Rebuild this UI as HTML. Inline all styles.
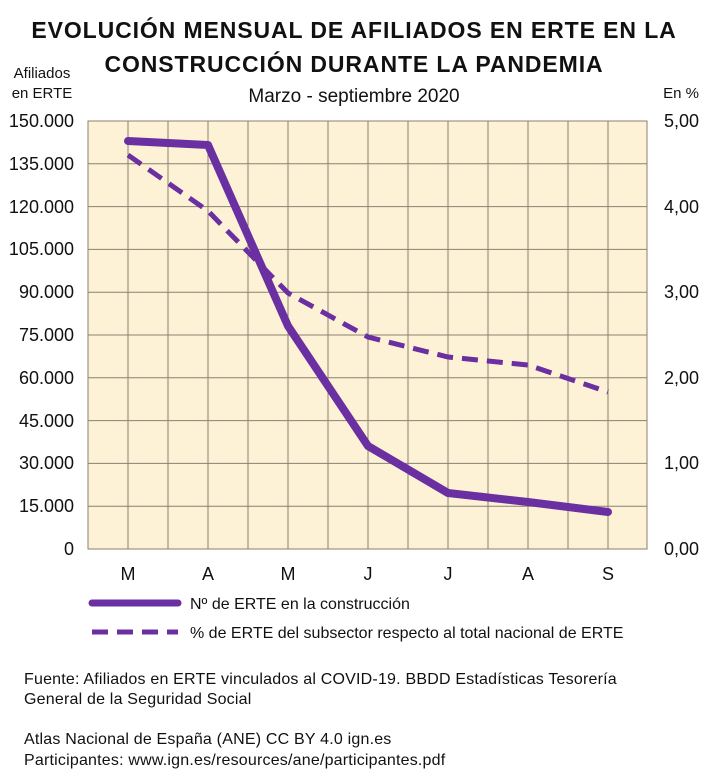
<!DOCTYPE html>
<html><head><meta charset="utf-8"><style>
body{margin:0;background:#fff;width:709px;height:778px;overflow:hidden;font-family:"Liberation Sans",sans-serif;}
</style></head><body>
<svg width="709" height="778" xmlns="http://www.w3.org/2000/svg" font-family="Liberation Sans, sans-serif">
<text x="354" y="38" text-anchor="middle" font-size="23" font-weight="bold" fill="#111" letter-spacing="0.9">EVOLUCIÓN MENSUAL DE AFILIADOS EN ERTE EN LA</text>
<text x="354" y="72" text-anchor="middle" font-size="23" font-weight="bold" fill="#111" letter-spacing="0.9">CONSTRUCCIÓN DURANTE LA PANDEMIA</text>
<text x="354" y="102" text-anchor="middle" font-size="19" fill="#111">Marzo - septiembre 2020</text>
<text x="42" y="78" text-anchor="middle" font-size="15" fill="#111">Afiliados</text>
<text x="42" y="98" text-anchor="middle" font-size="15" fill="#111">en ERTE</text>
<text x="681" y="98" text-anchor="middle" font-size="15" fill="#111">En %</text>
<rect x="88" y="121" width="559" height="428" fill="#fdf2d6"/>
<g stroke="#8a8070" stroke-width="1">
<line x1="128" y1="121" x2="128" y2="549"/><line x1="168" y1="121" x2="168" y2="549"/><line x1="208" y1="121" x2="208" y2="549"/><line x1="248" y1="121" x2="248" y2="549"/><line x1="288" y1="121" x2="288" y2="549"/><line x1="328" y1="121" x2="328" y2="549"/><line x1="368" y1="121" x2="368" y2="549"/><line x1="408" y1="121" x2="408" y2="549"/><line x1="448" y1="121" x2="448" y2="549"/><line x1="488" y1="121" x2="488" y2="549"/><line x1="528" y1="121" x2="528" y2="549"/><line x1="568" y1="121" x2="568" y2="549"/><line x1="608" y1="121" x2="608" y2="549"/>
<line x1="88" y1="163.8" x2="647" y2="163.8"/><line x1="88" y1="206.6" x2="647" y2="206.6"/><line x1="88" y1="249.4" x2="647" y2="249.4"/><line x1="88" y1="292.2" x2="647" y2="292.2"/><line x1="88" y1="335" x2="647" y2="335"/><line x1="88" y1="377.8" x2="647" y2="377.8"/><line x1="88" y1="420.6" x2="647" y2="420.6"/><line x1="88" y1="463.4" x2="647" y2="463.4"/><line x1="88" y1="506.2" x2="647" y2="506.2"/>
</g>
<rect x="88" y="121" width="559" height="428" fill="none" stroke="#8a8070"/>
<g font-size="18" fill="#111" text-anchor="end">
<text x="74" y="127">150.000</text><text x="74" y="170">135.000</text><text x="74" y="213">120.000</text><text x="74" y="255">105.000</text><text x="74" y="298">90.000</text><text x="74" y="341">75.000</text><text x="74" y="384">60.000</text><text x="74" y="427">45.000</text><text x="74" y="469">30.000</text><text x="74" y="512">15.000</text><text x="74" y="555">0</text>
</g>
<g font-size="18" fill="#111">
<text x="664" y="127">5,00</text><text x="664" y="213">4,00</text><text x="664" y="298">3,00</text><text x="664" y="384">2,00</text><text x="664" y="469">1,00</text><text x="664" y="555">0,00</text>
</g>
<g font-size="18" fill="#111" text-anchor="middle">
<text x="128" y="580">M</text><text x="208" y="580">A</text><text x="288" y="580">M</text><text x="368" y="580">J</text><text x="448" y="580">J</text><text x="528" y="580">A</text><text x="608" y="580">S</text>
</g>
<polyline points="128,155 208,211 288,293 368,337 448,357 528,365 608,392" fill="none" stroke="#6a2fa0" stroke-width="5" stroke-dasharray="16,9"/>
<polyline points="128,141 208,145 288,326 368,446 448,493 528,502 608,512" fill="none" stroke="#6a2fa0" stroke-width="8" stroke-linecap="round" stroke-linejoin="round"/>
<line x1="92" y1="603" x2="178" y2="603" stroke="#6a2fa0" stroke-width="7" stroke-linecap="round"/>
<line x1="92" y1="632" x2="178" y2="632" stroke="#6a2fa0" stroke-width="5" stroke-dasharray="16,9"/>
<text x="190" y="609" font-size="16" fill="#111">Nº de ERTE en la construcción</text>
<text x="190" y="638" font-size="16" fill="#111">% de ERTE del subsector respecto al total nacional de ERTE</text>
<g font-size="16" fill="#111" letter-spacing="0.2">
<text x="24" y="684">Fuente: Afiliados en ERTE vinculados al COVID-19. BBDD Estadísticas Tesorería</text>
<text x="24" y="704">General de la Seguridad Social</text>
<text x="24" y="744">Atlas Nacional de España (ANE) CC BY 4.0 ign.es</text>
<text x="24" y="765">Participantes: www.ign.es/resources/ane/participantes.pdf</text>
</g>
</svg>
</body></html>
